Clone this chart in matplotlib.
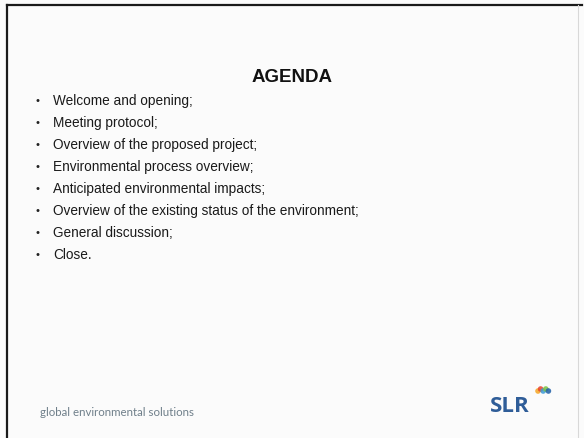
import matplotlib
matplotlib.use("Agg")
import matplotlib.pyplot as plt
from matplotlib.patches import Circle

# slide content
title = "AGENDA"
agenda_items = [
    "Welcome and opening;",
    "Meeting protocol;",
    "Overview of the proposed project;",
    "Environmental process overview;",
    "Anticipated environmental impacts;",
    "Overview of the existing status of the environment;",
    "General discussion;",
    "Close.",
]
footer_text = "global environmental solutions"
logo_text = "SLR"
logo_dot_colors = ["#f5a623", "#e8412c", "#3a9bd9", "#7cc243", "#1f5fa8"]

W, H = 584, 438
fig = plt.figure(figsize=(W / 100, H / 100), dpi=100)
fig.patch.set_facecolor("#fbfbfb")
ax = fig.add_axes([0, 0, 1, 1])
ax.set_xlim(0, W)
ax.set_ylim(H, 0)
ax.axis("off")

# slide frame
ax.plot([7, 7], [5, H], color="#1a1a1a", lw=1.6)
ax.plot([7, 582], [5, 5], color="#1a1a1a", lw=1.6)
ax.plot([578, 578], [5, H], color="#d8d8d8", lw=0.8)

font = "Liberation Sans"
ax.text(292, 78, title, ha="center", va="center", fontsize=13.5,
        fontweight="bold", family=font, color="#111111")

y0, dy = 101, 22
for i, item in enumerate(agenda_items):
    y = y0 + i * dy
    ax.text(38, y, "\u2022", ha="center", va="center", fontsize=8,
            family=font, color="#222222")
    ax.text(53, y, item, ha="left", va="center", fontsize=9.8,
            family=font, color="#1a1a1a")

ax.text(40, 413, footer_text, ha="left", va="center", fontsize=8.3,
        family="Lato", color="#6f7f8a")
ax.text(510, 407, logo_text, ha="center", va="center", fontsize=16,
        fontweight="bold", family="Open Sans", color="#2f5d98")

# small logo blob
for k, c in enumerate(logo_dot_colors):
    ax.add_patch(Circle((538 + k * 2.6, 391 - (k % 2) * 2), 2.8,
                        color=c, alpha=0.85, lw=0))

fig.savefig("out.png", dpi=100, facecolor=fig.get_facecolor())
